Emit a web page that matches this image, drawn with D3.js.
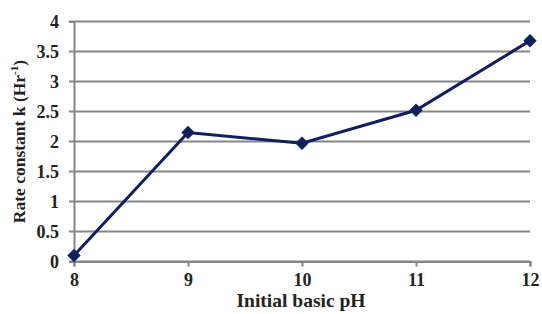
<!DOCTYPE html>
<html>
<head>
<meta charset="utf-8">
<script src="https://cdn.jsdelivr.net/npm/d3@7"></script>
<style>
  body { margin: 0; background: #fff; }
  svg text { font-family: "Liberation Serif", "Times New Roman", serif; font-weight: bold; fill: #222; }
</style>
</head>
<body>
<div id="chart"></div>
<script>
const phValues = [8, 9, 10, 11, 12];
const rateK = [0.1, 2.15, 1.97, 2.52, 3.68];
const yTicks = [0, 0.5, 1, 1.5, 2, 2.5, 3, 3.5, 4];
const xTitle = "Initial basic pH";

const width = 542, height = 314;
const margin = { top: 21.5, right: 12, bottom: 52.5, left: 74 };

const svg = d3.select("#chart").append("svg")
    .attr("width", width)
    .attr("height", height);

const x = d3.scaleLinear().domain([8, 12]).range([margin.left, width - margin.right]);
const y = d3.scaleLinear().domain([0, 4]).range([height - margin.bottom, margin.top]);

// horizontal grid lines
svg.append("g")
    .selectAll("line")
    .data(yTicks)
    .join("line")
    .attr("x1", margin.left - 5)
    .attr("x2", width - margin.right)
    .attr("y1", (d) => y(d))
    .attr("y2", (d) => y(d))
    .attr("stroke", "#858585")
    .attr("stroke-width", 2);

// y axis
const yAxis = svg.append("g")
    .attr("transform", `translate(${margin.left},0)`)
    .call(d3.axisLeft(y).tickValues(yTicks).tickSize(5).tickPadding(10).tickFormat(d3.format("")));
yAxis.select(".domain").attr("stroke", "#858585").attr("stroke-width", 2);
yAxis.selectAll(".tick line").remove();
yAxis.selectAll("text").style("font-size", "18px").style("font-family", null);

// x axis
const xAxis = svg.append("g")
    .attr("transform", `translate(0,${y(0)})`)
    .call(d3.axisBottom(x).tickValues(phValues).tickSize(5).tickPadding(7).tickFormat(d3.format("d")));
xAxis.select(".domain").attr("stroke", "#858585").attr("stroke-width", 2);
xAxis.selectAll(".tick line").attr("stroke", "#858585").attr("stroke-width", 2);
xAxis.selectAll("text").style("font-size", "18px").style("font-family", null);

// axis titles
svg.append("text")
    .attr("x", 301)
    .attr("y", 307)
    .attr("text-anchor", "middle")
    .style("font-size", "19.5px")
    .text(xTitle);

const yTitle = svg.append("text")
    .attr("transform", `translate(25,${(margin.top + y(0)) / 2}) rotate(-90)`)
    .attr("text-anchor", "middle")
    .style("font-size", "17.5px");
yTitle.append("tspan").text("Rate constant k (Hr");
yTitle.append("tspan").attr("dy", -7).style("font-size", "11px").text("-1");
yTitle.append("tspan").attr("dy", 7).text(")");

// data line
const points = phValues.map((p, i) => [p, rateK[i]]);
svg.append("path")
    .datum(points)
    .attr("fill", "none")
    .attr("stroke", "#10205e")
    .attr("stroke-width", 3)
    .attr("d", d3.line().x((d) => x(d[0])).y((d) => y(d[1])));

// diamond markers (rotated squares)
svg.append("g")
    .selectAll("path")
    .data(points)
    .join("path")
    .attr("transform", (d) => `translate(${x(d[0])},${y(d[1])}) rotate(45)`)
    .attr("d", d3.symbol(d3.symbolSquare, 90))
    .attr("fill", "#10205e");
</script>
</body>
</html>
